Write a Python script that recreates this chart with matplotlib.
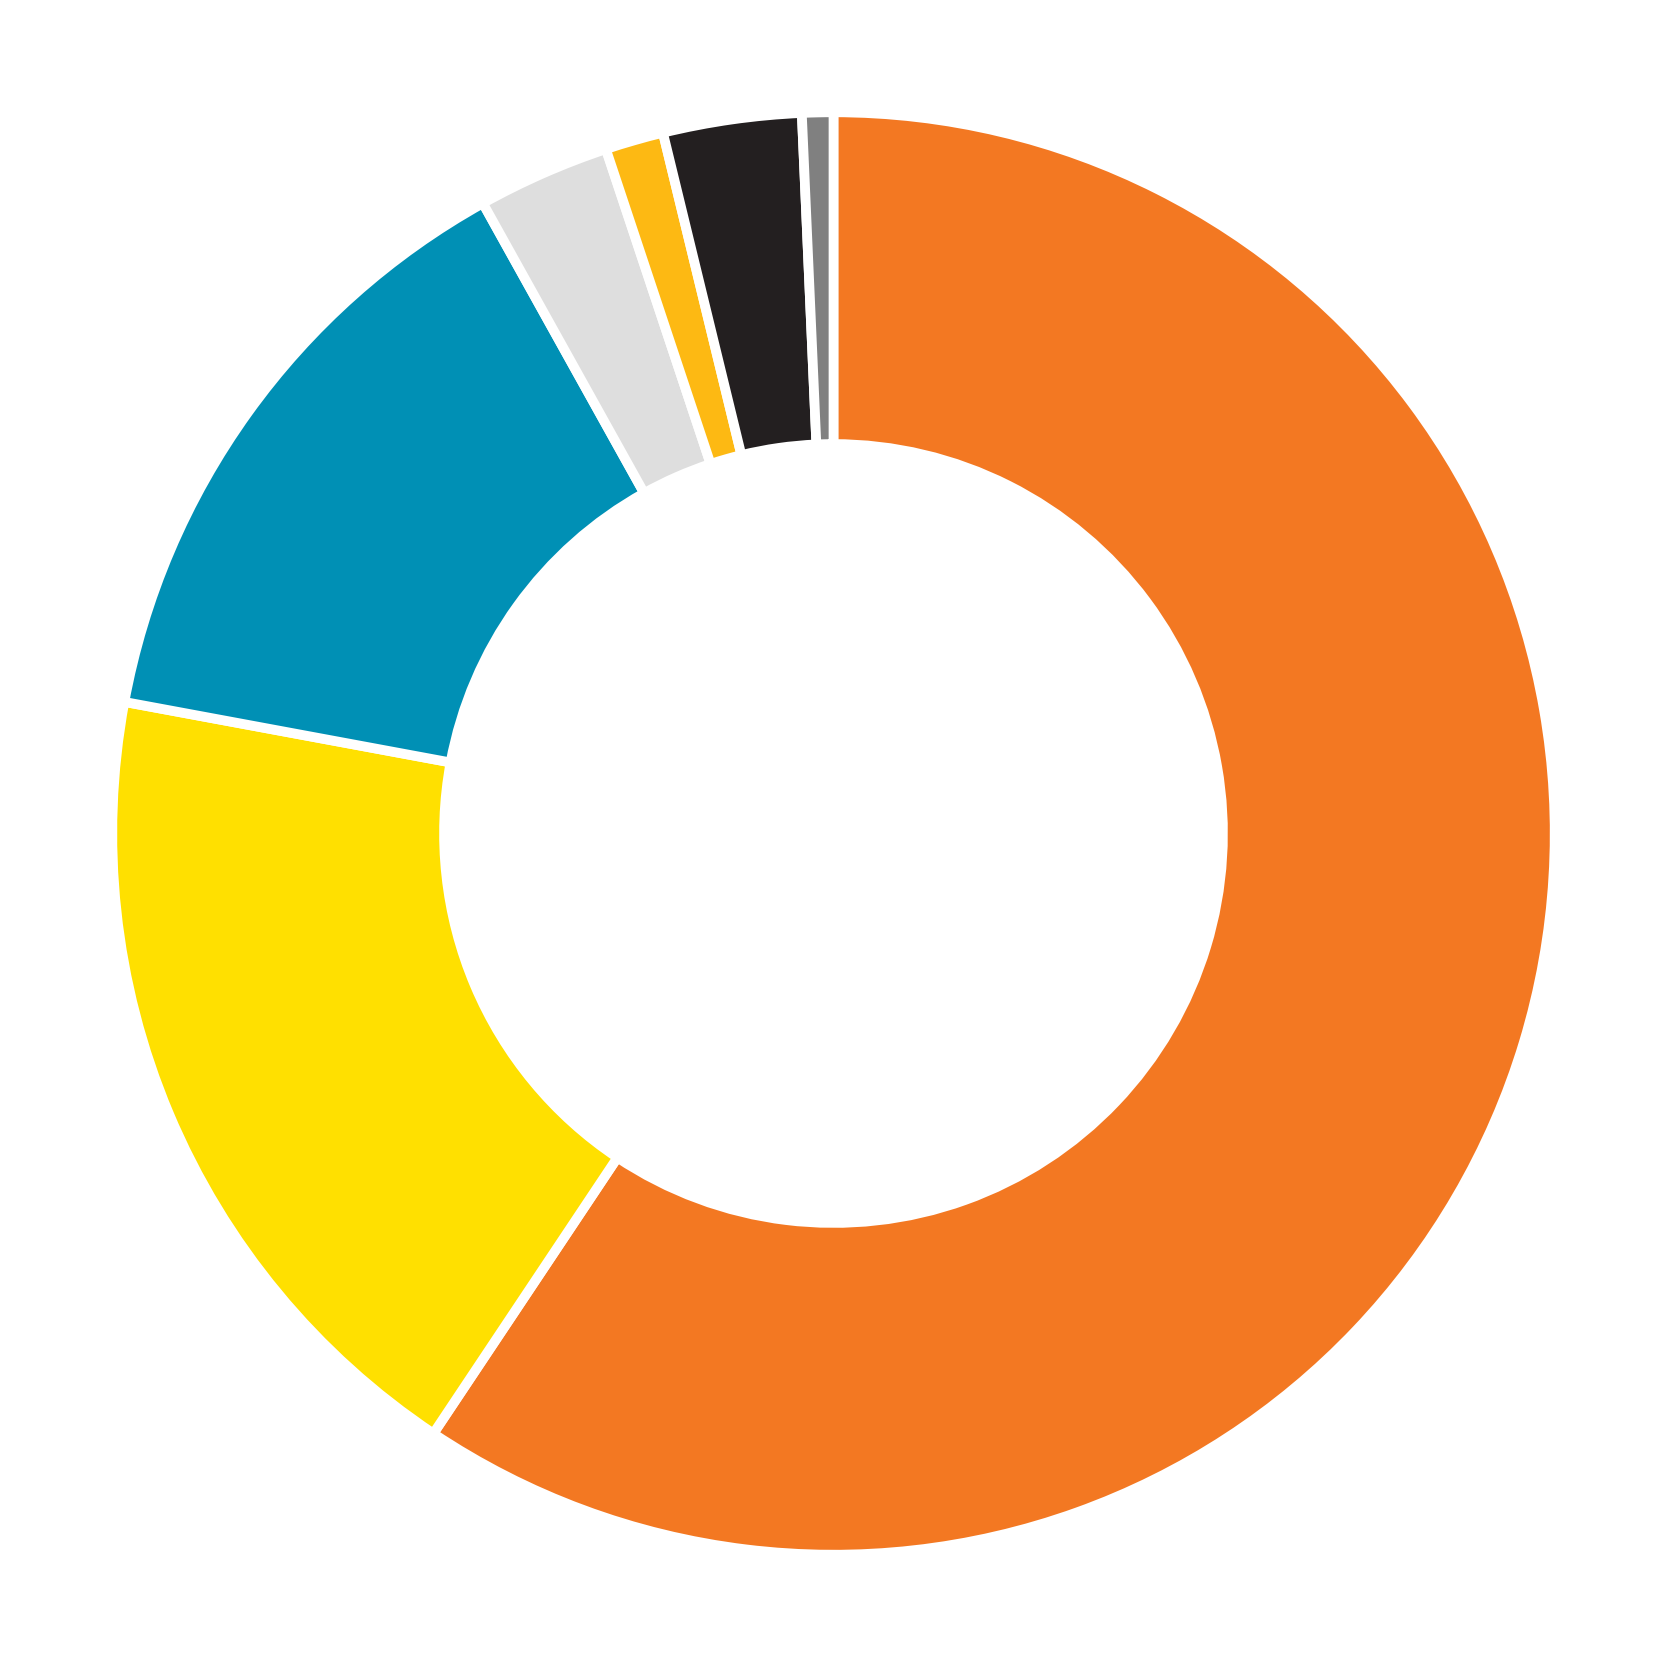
import matplotlib
matplotlib.use("Agg")
import matplotlib.pyplot as plt

# share of each slice (%), clockwise from 12 o'clock
shares = [59.36, 18.56, 14.0, 2.97, 1.31, 3.1, 0.7]
colours = ["#F37822", "#FFE000", "#0090B5", "#DEDEDE", "#FDB913", "#231F20", "#808080"]

fig = plt.figure(figsize=(16.67, 16.67), dpi=100)
ax = fig.add_axes([0, 0, 1, 1])
ax.pie(shares, colors=colours, startangle=90, counterclock=False,
       radius=1.0,
       wedgeprops=dict(width=0.46, edgecolor="white", linewidth=7))
ax.set_xlim(-1.1557, 1.1557)
ax.set_ylim(-1.1557, 1.1557)
ax.set_aspect("equal")
ax.axis("off")
fig.savefig("out.png", dpi=100, facecolor="white")
